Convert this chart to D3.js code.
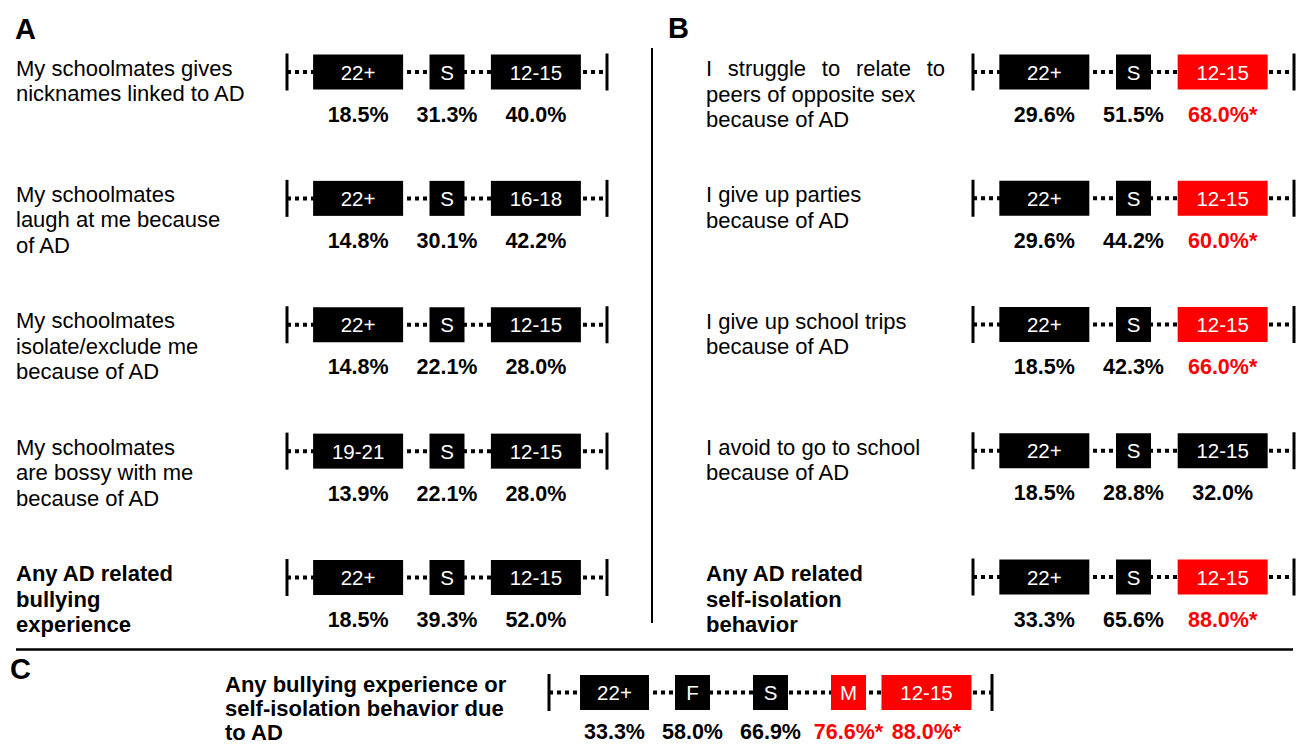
<!DOCTYPE html>
<html>
<head>
<meta charset="utf-8">
<script src="https://cdn.jsdelivr.net/npm/d3@7"></script>
<style>
  body { margin: 0; background: #fff; }
  text { font-family: "Liberation Sans", Arial, sans-serif; }
</style>
</head>
<body>
<div id="chart"></div>
<script>
// DATA

const labelsA = [
  ["My schoolmates gives", "nicknames linked to AD"],
  ["My schoolmates", "laugh at me because", "of AD"],
  ["My schoolmates", "isolate/exclude me", "because of AD"],
  ["My schoolmates", "are bossy with me", "because of AD"],
  ["Any AD related", "bullying", "experience"]
];
const groupsA = [
  ["22+", "S", "12-15"],
  ["22+", "S", "16-18"],
  ["22+", "S", "12-15"],
  ["19-21", "S", "12-15"],
  ["22+", "S", "12-15"]
];
const valuesA = [
  [18.5, 31.3, 40.0],
  [14.8, 30.1, 42.2],
  [14.8, 22.1, 28.0],
  [13.9, 22.1, 28.0],
  [18.5, 39.3, 52.0]
];
const sigA = [
  [0, 0, 0], [0, 0, 0], [0, 0, 0], [0, 0, 0], [0, 0, 0]
];

const labelsB = [
  ["I struggle to relate to", "peers of opposite sex", "because of AD"],
  ["I give up parties", "because of AD"],
  ["I give up school trips", "because of AD"],
  ["I avoid to go to school", "because of AD"],
  ["Any AD related", "self-isolation", "behavior"]
];
const groupsB = [
  ["22+", "S", "12-15"],
  ["22+", "S", "12-15"],
  ["22+", "S", "12-15"],
  ["22+", "S", "12-15"],
  ["22+", "S", "12-15"]
];
const valuesB = [
  [29.6, 51.5, 68.0],
  [29.6, 44.2, 60.0],
  [18.5, 42.3, 66.0],
  [18.5, 28.8, 32.0],
  [33.3, 65.6, 88.0]
];
const sigB = [
  [0, 0, 1], [0, 0, 1], [0, 0, 1], [0, 0, 0], [0, 0, 1]
];

const labelsC = [
  ["Any bullying experience or", "self-isolation behavior due", "to AD"]
];
const groupsC = [["22+", "F", "S", "M", "12-15"]];
const valuesC = [[33.3, 58.0, 66.9, 76.6, 88.0]];
const sigC = [[0, 0, 0, 1, 1]];

// LAYOUT

const W = 1296;
const H = 744;
const red = "#ff0000";
const boxH = 35;
const barH = 37;

const panels = [
  { key: "A", letter: [15, 39], labels: labelsA, groups: groupsA, values: valuesA, sig: sigA,
    xRange: [287, 607], yRange: [72, 577.5], pad: 0.8, labelX: 16, labelDy: 3.5,
    lineH: 25.5, pctDy: 49.5, boldRow: 4 },
  { key: "B", letter: [668, 38], labels: labelsB, groups: groupsB, values: valuesB, sig: sigB,
    xRange: [973, 1294], yRange: [72, 577], pad: 0.8, labelX: 706, labelDy: 4,
    lineH: 25.5, pctDy: 49.5, boldRow: 4, justify: { row: 0, width: 239 } },
  { key: "C", letter: [10, 679], labels: labelsC, groups: groupsC, values: valuesC, sig: sigC,
    xRange: [549, 992], yRange: [692.5, 692.5], pad: 0.84, labelX: 225, labelDy: -1,
    lineH: 24, pctDy: 46.5, boldRow: 0 }
];

function boxWidth(lab, p, j) {
  if (lab.length === 1) return 35;
  if (p.key === "C" && j === 0) return 69;
  return 90;
}

const svg = d3.select("#chart")
  .append("svg")
  .attr("width", W)
  .attr("height", H);

// separators
svg.append("line")
  .attr("x1", 652).attr("x2", 652).attr("y1", 48).attr("y2", 623)
  .attr("stroke", "#000").attr("stroke-width", 2);
svg.append("line")
  .attr("x1", 16).attr("x2", 1293).attr("y1", 649.5).attr("y2", 649.5)
  .attr("stroke", "#000").attr("stroke-width", 2.5);

panels.forEach(drawPanel);

function drawPanel(p) {
  svg.append("text")
    .attr("x", p.letter[0]).attr("y", p.letter[1])
    .style("font-size", "29px").style("font-weight", "bold")
    .text(p.key);

  const y = d3.scalePoint().domain(d3.range(p.groups.length)).range(p.yRange);

  p.groups.forEach((grp, i) => {
    const cy = y(i);
    const x = d3.scalePoint().domain(d3.range(grp.length)).range(p.xRange).padding(p.pad);
    const g = svg.append("g").attr("class", "row");

    // row label
    const t = g.append("text")
      .attr("x", p.labelX).attr("y", cy + p.labelDy)
      .style("font-size", "22px")
      .style("font-weight", i === p.boldRow ? "bold" : "normal");
    p.labels[i].forEach((line, k) => {
      const ts = t.append("tspan")
        .attr("x", p.labelX)
        .attr("dy", k ? p.lineH : 0)
        .text(line);
      if (p.justify && p.justify.row === i && k === 0) {
        const len = ts.node().getComputedTextLength();
        const gaps = line.split(" ").length - 1;
        ts.style("word-spacing", ((p.justify.width - len) / gaps) + "px");
      }
    });

    // dotted line
    g.append("line")
      .attr("x1", p.xRange[0]).attr("x2", p.xRange[1])
      .attr("y1", cy).attr("y2", cy)
      .attr("stroke", "#000").attr("stroke-width", 4)
      .attr("stroke-dasharray", "4,4");

    // end bars
    p.xRange.forEach((xx) => {
      g.append("line")
        .attr("x1", xx).attr("x2", xx)
        .attr("y1", cy - barH / 2).attr("y2", cy + barH / 2)
        .attr("stroke", "#000").attr("stroke-width", 3);
    });

    // boxes + percentages
    grp.forEach((lab, j) => {
      const w = boxWidth(lab, p, j);
      const cx = x(j);
      const isSig = p.sig[i][j] === 1;
      g.append("rect")
        .attr("x", cx - w / 2).attr("y", cy - boxH / 2)
        .attr("width", w).attr("height", boxH)
        .attr("fill", isSig ? red : "#000");
      g.append("text")
        .attr("x", cx).attr("y", cy + 7.5)
        .attr("text-anchor", "middle")
        .attr("fill", "#fff")
        .style("font-size", "20.5px")
        .text(lab);
      g.append("text")
        .attr("x", cx).attr("y", cy + p.pctDy)
        .attr("text-anchor", "middle")
        .attr("fill", isSig ? red : "#000")
        .style("font-size", "21.5px").style("font-weight", "bold")
        .text(d3.format(".1f")(p.values[i][j]) + "%" + (isSig ? "*" : ""));
    });
  });
}
</script>
</body>
</html>
